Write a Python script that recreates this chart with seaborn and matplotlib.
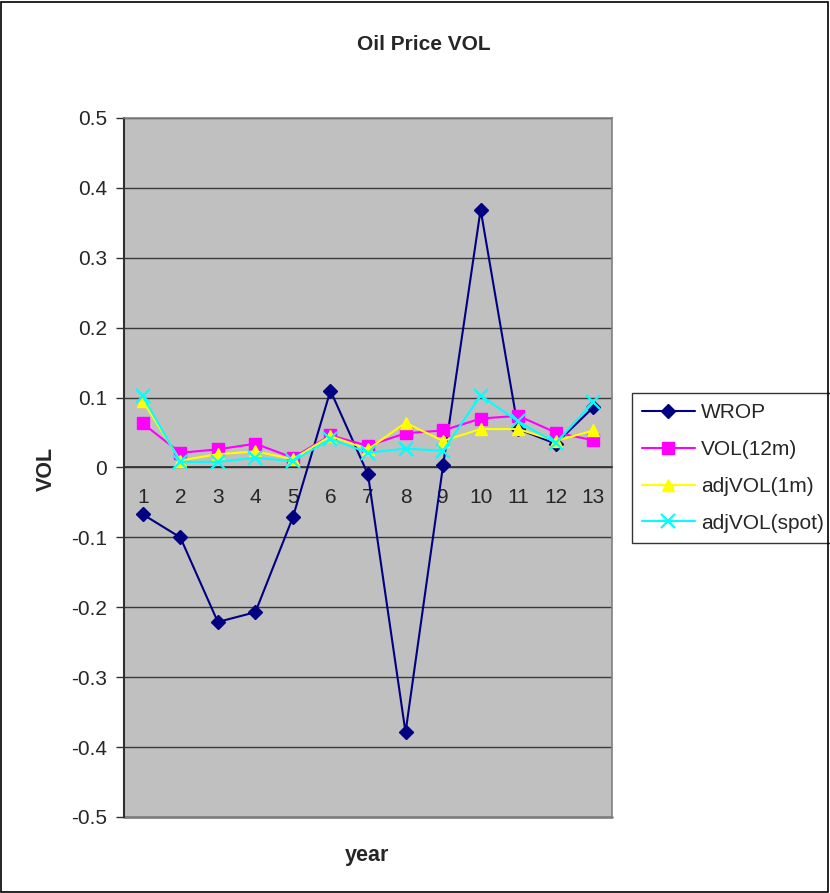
import matplotlib
matplotlib.use("Agg")
import matplotlib.pyplot as plt
from matplotlib.patches import Rectangle
from matplotlib.ticker import FixedLocator
import pandas as pd
import seaborn as sns

years = [str(i) for i in range(1, 14)]
wrop = [-0.067, -0.100, -0.221, -0.207, -0.071, 0.110, -0.010, -0.379, 0.003, 0.369, 0.055, 0.034, 0.086]
vol_12m = [0.063, 0.021, 0.026, 0.034, 0.014, 0.046, 0.031, 0.049, 0.053, 0.070, 0.074, 0.050, 0.039]
adjvol_1m = [0.095, 0.010, 0.019, 0.023, 0.012, 0.045, 0.026, 0.064, 0.038, 0.055, 0.055, 0.038, 0.053]
adjvol_spot = [0.102, 0.008, 0.008, 0.014, 0.009, 0.041, 0.021, 0.027, 0.024, 0.103, 0.066, 0.035, 0.093]
y_ticks = [-0.5, -0.4, -0.3, -0.2, -0.1, 0.0, 0.1, 0.2, 0.3, 0.4, 0.5]
y_tick_labels = ["-0.5", "-0.4", "-0.3", "-0.2", "-0.1", "0", "0.1", "0.2", "0.3", "0.4", "0.5"]

series_names = ["WROP", "VOL(12m)", "adjVOL(1m)", "adjVOL(spot)"]
series_values = [wrop, vol_12m, adjvol_1m, adjvol_spot]
colors = ["#000080", "#FF00FF", "#FFFF00", "#00FFFF"]
markers = ["D", "s", "^", "x"]
marker_sizes = [7, 8, 9, 10]

sns.set_style("white")
plt.rcParams["font.family"] = ["Liberation Sans", "DejaVu Sans"]

fig = plt.figure(figsize=(8.3, 8.93), dpi=100)
ax = fig.add_axes([124 / 830, 1 - 817 / 893, 488 / 830, 699 / 893])
ax.set_facecolor("#C0C0C0")

pos = list(range(len(years)))
for name, vals, c, m, ms in zip(series_names, series_values, colors, markers, marker_sizes):
    df = pd.DataFrame({"pos": pos, "val": vals})
    sns.lineplot(data=df, x="pos", y="val", ax=ax, color=c, marker=m,
                 markersize=ms, markeredgecolor=c, markeredgewidth=1.6 if m == "x" else 1,
                 linewidth=1.5, label=name, zorder=3)

ax.set_xlim(-0.5, len(years) - 0.5)
ax.set_ylim(-0.5, 0.5)
ax.set_yticks(y_ticks)
ax.set_yticklabels(y_tick_labels)
ax.grid(axis="y", color="#3a3a3a", linewidth=1, zorder=1)
ax.set_axisbelow(True)

# category axis sits on the zero line
ax.spines["bottom"].set_position(("data", 0))
ax.spines["bottom"].set_color("#303030")
ax.spines["bottom"].set_linewidth(1.2)
ax.xaxis.set_major_locator(FixedLocator(pos))
ax.set_xticklabels(years)
ax.xaxis.set_minor_locator(FixedLocator([p + 0.5 for p in pos[:-1]]))
ax.tick_params(axis="x", which="major", length=0, pad=15, labelsize=15)
ax.tick_params(axis="x", which="minor", length=5, width=1, direction="out", color="#303030")
ax.tick_params(axis="y", which="major", length=6, width=1, direction="out", color="#303030",
               labelsize=15, pad=6, left=True)

ax.spines["left"].set_color("#303030")
ax.spines["left"].set_linewidth(1.5)
for s in ["top", "right"]:
    ax.spines[s].set_color("#808080")
    ax.spines[s].set_linewidth(1.2)

# plot-area lower border
ax.axhline(-0.5, color="#808080", linewidth=2, zorder=2, clip_on=False)

ax.set_xlabel("")
ax.set_ylabel("")
fig.text(367 / 830, 1 - 855 / 893, "year", ha="center", va="center", fontsize=15.5, fontweight="bold")
fig.text(46 / 830, 1 - 469 / 893, "VOL", ha="center", va="center", rotation=90, fontsize=15.5, fontweight="bold")
fig.text(424 / 830, 1 - 45 / 893, "Oil Price VOL", ha="center", va="center", fontsize=15, fontweight="bold")

leg = ax.legend(loc="upper left", bbox_to_anchor=(632 / 830, 1 - 393 / 893),
                bbox_transform=fig.transFigure, frameon=True, fancybox=False,
                fontsize=15, handlelength=2.5, handletextpad=0.3, labelspacing=0.85,
                borderpad=0.5, borderaxespad=0)
leg.get_frame().set_edgecolor("black")
leg.get_frame().set_linewidth(1)

fig.add_artist(Rectangle((1 / 830, 1 / 893), 827 / 830, 890 / 893, transform=fig.transFigure,
                         fill=False, edgecolor="black", linewidth=1.2))

fig.savefig("out.png", dpi=100, facecolor="white")
